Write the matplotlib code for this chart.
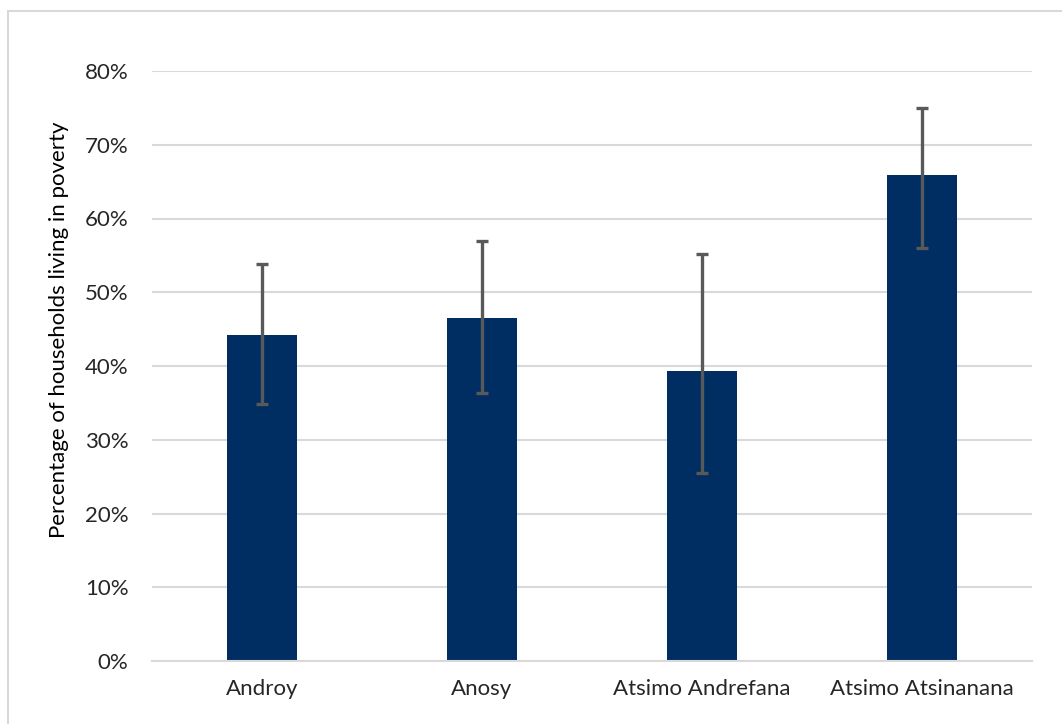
import matplotlib
matplotlib.use("Agg")
import matplotlib.pyplot as plt
from matplotlib.patches import Rectangle
from matplotlib.ticker import PercentFormatter

# Data
regions = ["Androy", "Anosy", "Atsimo Andrefana", "Atsimo Atsinanana"]
poverty = [0.442, 0.465, 0.393, 0.659]
err_low = [0.348, 0.364, 0.255, 0.560]
err_high = [0.538, 0.570, 0.552, 0.750]

plt.rcParams['font.family'] = ['Lato', 'DejaVu Sans']

fig = plt.figure(figsize=(10.62, 7.24), dpi=100)
ax = fig.add_axes([152 / 1062, 63 / 724, 880 / 1062, 590 / 724])

# outer chart border (Excel style)
fig.patches.append(Rectangle((8 / 1062, -0.1), 1.2, (724 - 11) / 724 + 0.1,
                             transform=fig.transFigure, fill=False,
                             edgecolor="#d9d9d9", linewidth=1.5))

x = range(len(regions))
yerr = [[p - lo for p, lo in zip(poverty, err_low)],
        [hi - p for p, hi in zip(poverty, err_high)]]

ax.bar(x, poverty, width=0.32, color="#002D62", zorder=2)
ax.errorbar(x, poverty, yerr=yerr, fmt="none", ecolor="#595959",
            elinewidth=2.4, capsize=4.3, capthick=2.4, zorder=3)

ax.set_xlim(-0.5, 3.5)
ax.set_ylim(0, 0.8)
ax.set_yticks([i / 10 for i in range(9)])
ax.yaxis.set_major_formatter(PercentFormatter(1.0, decimals=0))
ax.set_xticks(list(x))
ax.set_xticklabels(regions)

ax.grid(axis="y", color="#d9d9d9", linewidth=1.5, zorder=0)
for s in ["top", "right", "left"]:
    ax.spines[s].set_visible(False)
ax.spines["bottom"].set_color("#d9d9d9")
ax.spines["bottom"].set_linewidth(1.5)
ax.tick_params(axis="both", length=0, labelsize=16, colors="#262626")
ax.tick_params(axis="y", pad=17)
ax.tick_params(axis="x", pad=13)

ax.set_ylabel("Percentage of households living in poverty", fontsize=16,
              color="#000000")
ax.yaxis.set_label_coords(-0.094, 0.561)

plt.savefig("out.png", dpi=100)
